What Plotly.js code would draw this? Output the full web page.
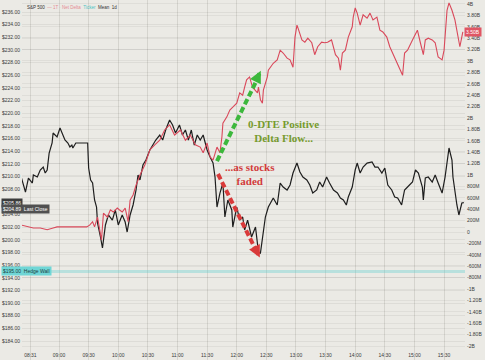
<!DOCTYPE html>
<html>
<head>
<meta charset="utf-8">
<script src="https://cdn.plot.ly/plotly-3.0.1.min.js"></script>
<style>html,body{margin:0;padding:0;background:#ebeae5;}#chart{width:485px;height:360px;}</style>
</head>
<body>
<div id="chart"></div>
<script>
// ---- S&P 500 (left axis) ----
const spxTimes = ["08:22","08:26","08:29","08:33","08:34","08:38","08:41","08:44","08:46","08:48","08:50","08:53","08:54","08:58","09:01","09:03","09:06","09:09","09:11","09:13","09:14","09:17","09:29","09:30","09:32","09:34","09:36","09:38","09:39","09:42","09:44","09:47","09:50","09:54","09:57","10:00","10:04","10:07","10:09","10:12","10:15","10:18","10:20","10:22","10:25","10:28","10:32","10:35","10:38","10:42","10:45","10:48","10:52","10:55","10:58","11:02","11:05","11:08","11:11","11:14","11:17","11:20","11:23","11:26","11:30","11:33","11:36","11:38","11:40","11:43","11:46","11:48","11:51","11:55","11:56","12:00","12:03","12:06","12:08","12:11","12:15","12:19","12:22","12:24","12:26","12:29","12:32","12:34","12:37","12:41","12:44","12:47","12:51","12:54","12:57","13:01","13:04","13:07","13:11","13:14","13:17","13:21","13:24","13:27","13:31","13:34","13:38","13:42","13:45","13:48","13:51","13:53","13:57","14:00","14:02","14:05","14:08","14:12","14:17","14:20","14:23","14:27","14:30","14:33","14:37","14:40","14:43","14:47","14:50","14:53","14:58","15:01","15:04","15:08","15:09","15:11","15:14","15:18","15:21","15:24","15:28","15:31","15:33","15:35","15:38","15:39","15:43","15:45","15:48","15:50"];
const spxPrices = [209.76,207.55,209.76,208.97,210.24,209.92,211.03,211.50,210.55,211.03,213.71,215.30,216.88,216.25,217.67,216.88,215.77,215.30,214.66,214.98,214.51,215.30,215.30,211.34,209.45,208.97,206.29,205.18,202.65,200.44,198.70,202.34,203.92,203.12,204.71,202.34,203.92,202.81,201.23,203.92,205.50,207.87,210.24,209.45,211.82,212.61,214.19,214.98,215.77,216.56,215.77,217.35,218.93,218.14,216.88,218.14,216.56,217.35,215.77,217.35,214.98,216.56,215.77,216.56,214.19,213.08,212.13,209.92,205.18,207.39,208.97,203.60,206.29,204.71,202.02,205.18,203.12,203.60,201.55,203.12,200.44,202.02,198.07,197.91,200.44,203.60,205.18,205.81,206.60,205.50,208.97,208.34,207.87,208.66,210.55,212.13,210.71,209.92,209.45,208.66,207.39,207.87,209.13,208.34,209.92,208.97,207.87,207.39,206.60,206.29,205.50,206.76,208.34,211.03,212.13,210.55,211.50,212.13,212.29,211.50,211.50,210.55,211.34,208.66,207.87,206.76,206.60,205.50,207.87,208.34,209.13,211.03,210.55,208.34,206.29,209.76,209.92,209.13,210.24,208.97,207.39,209.92,212.61,214.51,212.61,209.92,205.50,203.92,205.81,205.86];

// ---- 1T Net Delta flow (right axis, $B) ----
const flowTimes = ["08:22","08:28","08:34","08:41","08:48","08:54","08:58","09:04","09:18","09:28","09:31","09:34","09:36","09:39","09:43","09:45","09:49","09:52","09:55","09:59","10:01","10:04","10:07","10:10","10:12","10:15","10:18","10:22","10:27","10:32","10:37","10:42","10:47","10:52","10:57","11:03","11:08","11:13","11:18","11:23","11:26","11:30","11:33","11:36","11:40","11:43","11:45","11:46","11:50","11:53","11:56","12:00","12:03","12:06","12:08","12:10","12:13","12:16","12:21","12:22","12:24","12:26","12:27","12:31","12:32","12:34","12:37","12:41","12:44","12:47","12:51","12:54","12:57","12:59","13:01","13:02","13:06","13:09","13:12","13:16","13:19","13:22","13:26","13:29","13:32","13:36","13:40","13:43","13:45","13:47","13:50","13:53","13:57","13:58","14:00","14:02","14:05","14:08","14:12","14:15","14:18","14:22","14:25","14:28","14:32","14:35","14:38","14:42","14:45","14:48","14:50","14:53","14:58","15:01","15:03","15:06","15:09","15:11","15:14","15:18","15:21","15:24","15:28","15:30","15:33","15:35","15:38","15:41","15:44","15:46","15:49"];
const flowValues = [0.12,0.09,0.07,0.07,0.04,0.07,0.09,0.09,0.09,0.09,0.12,0.18,0.09,0.26,-0.14,0.33,0.26,0.39,0.35,0.42,0.39,0.35,0.42,0.18,0.56,0.65,0.82,1.00,1.18,1.44,1.53,1.61,1.79,1.88,1.70,1.79,1.61,1.70,1.53,1.49,1.39,1.56,1.32,1.26,1.49,1.39,1.67,1.91,2.02,2.14,2.19,2.26,2.44,2.40,2.54,2.67,2.72,2.54,2.44,2.54,2.32,2.26,2.49,2.72,2.84,2.89,2.96,3.02,3.19,3.14,3.05,3.02,2.89,3.42,3.63,3.58,3.37,3.33,3.40,3.32,3.11,3.25,3.33,3.32,3.33,3.37,3.11,3.05,2.84,3.14,3.19,3.42,3.60,3.77,3.93,3.84,3.63,3.81,3.75,3.84,3.72,3.77,3.54,3.51,3.42,3.25,3.14,2.98,2.89,2.75,3.14,3.19,3.37,3.49,3.54,3.32,3.11,3.37,3.40,3.37,3.32,3.07,3.02,3.19,3.89,4.02,3.89,3.72,3.42,3.25,3.51];

// ---- axis ticks ----
const xTickTimes = ["08:31","09:00","09:30","10:00","10:30","11:00","11:30","12:00","12:30","13:00","13:30","14:00","14:30","15:00","15:30"];
const leftTickVals = [184,186,188,190,192,194,196,198,200,202,204,206,208,210,212,214,216,218,220,222,224,226,228,230,232,234,236];
const leftTickText = ["$184.00","$186.00","$188.00","$190.00","$192.00","$194.00","$196.00","$198.00","$200.00","$202.00","$204.00","$206.00","$208.00","$210.00","$212.00","$214.00","$216.00","$218.00","$220.00","$222.00","$224.00","$226.00","$228.00","$230.00","$232.00","$234.00","$236.00"];
const rightTickVals = [-2.2,-2,-1.8,-1.6,-1.4,-1.2,-1,-0.8,-0.6,-0.4,-0.2,0,0.2,0.4,0.6,0.8,1,1.2,1.4,1.6,1.8,2,2.2,2.4,2.6,2.8,3,3.2,3.4,3.6,3.8,4];
const rightTickText = ["-2.20B","-2B","-1.80B","-1.60B","-1.40B","-1.20B","-1B","-800M","-600M","-400M","-200M","0","200M","400M","600M","800M","1B","1.20B","1.40B","1.60B","1.80B","2B","2.20B","2.40B","2.60B","2.80B","3B","3.20B","3.40B","3.60B","3.80B","4B"];

// ---- reference levels ----
const lastPrice = 205.86;
const lastClose = 204.89;
const hedgeWall = 195.00;
const lastFlow = 3.51;

function toMin(s){const p=s.split(":");return (+p[0])*60+(+p[1]);}

const traces = [
  {x: spxTimes.map(toMin), y: spxPrices, type:'scatter', mode:'lines',
   line:{color:'#1e1e1e', width:1.2}, yaxis:'y', hoverinfo:'skip'},
  {x: flowTimes.map(toMin), y: flowValues, type:'scatter', mode:'lines',
   line:{color:'#d9485a', width:1.1}, yaxis:'y2', hoverinfo:'skip'}
];

const tickFont = {family:'Liberation Sans, Arial, sans-serif', size:5, color:'#3a3a3a'};
const serif = 'Liberation Serif, Times New Roman, serif';

const layout = {
  width:485, height:360,
  margin:{l:22, r:20, t:0, b:0, pad:1},
  paper_bgcolor:'#ebeae5', plot_bgcolor:'#ebeae5',
  showlegend:false,
  xaxis:{range:[502.5,951.2], tickvals:xTickTimes.map(toMin), ticktext:xTickTimes,
         ticklabelposition:'inside', tickfont:tickFont, showgrid:true, gridcolor:'#d5d4ce',
         gridwidth:1, zeroline:false, showline:false, ticks:'', fixedrange:true},
  yaxis:{range:[181.0,237.9], tickvals:leftTickVals, ticktext:leftTickText, tickfont:tickFont,
         showgrid:true, gridcolor:'rgba(0,0,0,0.06)', zeroline:false, showline:false, ticks:'', ticklen:2},
  yaxis2:{range:[-2.2456,4.070], overlaying:'y', side:'right', tickvals:rightTickVals, ticktext:rightTickText,
          tickfont:tickFont, showgrid:true, gridcolor:'rgba(0,0,0,0.05)', zeroline:false, showline:false, ticks:''},
  shapes:[
    {type:'line', xref:'paper', x0:0, x1:1, yref:'y', y0:hedgeWall, y1:hedgeWall,
     line:{color:'rgba(90,205,205,0.35)', width:3}},
    {type:'line', xref:'x', yref:'y', x0:700.0, y0:212.45, x1:740.5, y1:225.3,
     line:{color:'#3cb83c', width:4, dash:'6px,3px'}},
    {type:'line', xref:'x', yref:'y', x0:701.0, y0:210.40, x1:740.0, y1:198.2,
     line:{color:'#d93a3a', width:4, dash:'6px,3px'}}
  ],
  annotations:[
    {xref:'x', yref:'y', x:744.4, y:226.7, ax:-4, ay:8, text:'', showarrow:true,
     arrowhead:2, arrowsize:0.6, arrowwidth:4, arrowcolor:'#3cb83c'},
    {xref:'x', yref:'y', x:743.4, y:197.2, ax:-4, ay:-8, text:'', showarrow:true,
     arrowhead:2, arrowsize:0.6, arrowwidth:4, arrowcolor:'#d93a3a'},
    {xref:'x', yref:'y', x:766.9, y:217.2, text:'<b>0-DTE Positive<br>Delta Flow...</b>', showarrow:false,
     font:{family:serif, size:11, color:'#769a2e'}, align:'center'},
    {xref:'x', yref:'y', x:733.4, y:210.4, text:'<b>...as stocks<br>faded</b>', showarrow:false,
     font:{family:serif, size:11, color:'#d23b3b'}, align:'center'},
    {xref:'paper', yref:'paper', x:0.007, y:0.98, xanchor:'left', yanchor:'middle', showarrow:false,
     text:'S&P 500  <span style="color:#e58a94">— 1T · Net Delta</span>  <span style="color:#4cc4c4">Ticker</span>  Mean  1d',
     font:{family:'Liberation Sans, Arial, sans-serif', size:4.5, color:'#333'}},
    {xref:'paper', yref:'y', x:-0.047, y:lastPrice, xanchor:'left', yanchor:'middle', showarrow:false,
     text:'$205.86', bgcolor:'#3c3c3c', borderpad:1, font:{family:'Liberation Sans, Arial, sans-serif', size:5, color:'#ffffff'}},
    {xref:'paper', yref:'y', x:-0.047, y:lastClose, xanchor:'left', yanchor:'middle', showarrow:false,
     text:'$204.89  Last Close', bgcolor:'#505050', borderpad:1, font:{family:'Liberation Sans, Arial, sans-serif', size:5, color:'#ffffff'}},
    {xref:'paper', yref:'y', x:-0.047, y:hedgeWall, xanchor:'left', yanchor:'middle', showarrow:false,
     text:'$195.00  Hedge Wall', bgcolor:'#6fd6d6', borderpad:1, font:{family:'Liberation Sans, Arial, sans-serif', size:5, color:'#1d3d3d'}},
    {xref:'paper', yref:'y2', x:0.998, y:lastFlow, xanchor:'left', yanchor:'middle', showarrow:false,
     text:'3.50B', bgcolor:'#e05664', borderpad:1, font:{family:'Liberation Sans, Arial, sans-serif', size:5, color:'#ffffff'}}
  ]
};

Plotly.newPlot('chart', traces, layout, {staticPlot:true, displayModeBar:false});
</script>
</body>
</html>
